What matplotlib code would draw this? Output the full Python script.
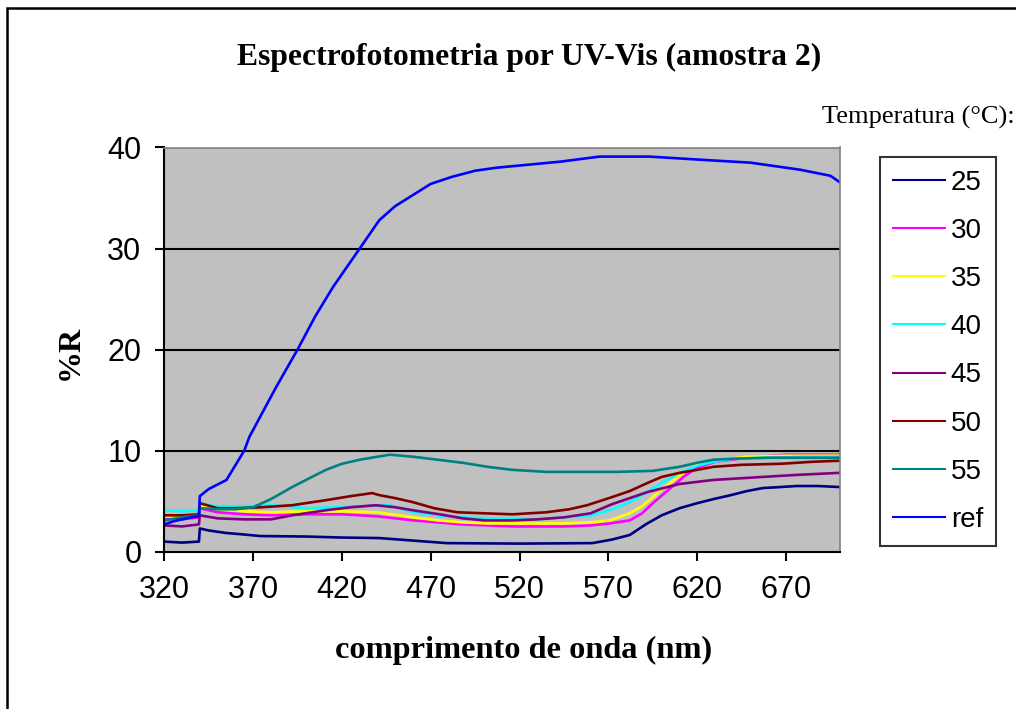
import matplotlib
matplotlib.use("Agg")
import matplotlib.pyplot as plt
from matplotlib.patches import Rectangle

# comprimento de onda (nm) e %R
nm25 = [320, 330, 339.5, 340, 345, 355, 365, 374, 400, 420, 441, 460, 479, 520, 561, 572, 582, 591, 600, 610, 620, 629, 639, 648, 657, 667, 676, 688, 700]
r25 = [1.0, 0.9, 1.0, 2.3, 2.1, 1.85, 1.7, 1.55, 1.5, 1.4, 1.35, 1.1, 0.85, 0.8, 0.85, 1.2, 1.65, 2.7, 3.6, 4.3, 4.8, 5.2, 5.6, 6.0, 6.3, 6.4, 6.5, 6.5, 6.4]

nm30 = [320, 330, 339.5, 340, 350, 365, 380, 400, 420, 440, 460, 474, 488, 502, 516, 530, 545, 560, 571, 582, 589, 595, 601, 607, 613, 620, 630, 648, 670, 700]
r30 = [3.3, 3.2, 3.4, 4.3, 3.9, 3.7, 3.6, 3.7, 3.7, 3.5, 3.1, 2.9, 2.7, 2.6, 2.5, 2.5, 2.5, 2.6, 2.8, 3.1, 3.8, 4.8, 5.7, 6.6, 7.5, 8.3, 8.9, 9.3, 9.6, 9.6]

nm35 = [320, 330, 339.5, 340, 350, 365, 380, 400, 420, 440, 460, 474, 488, 502, 516, 530, 545, 560, 571, 582, 589, 595, 601, 607, 613, 620, 630, 648, 670, 700]
r35 = [3.5, 3.4, 3.6, 4.6, 4.2, 4.0, 3.9, 4.0, 4.0, 3.9, 3.4, 3.1, 2.9, 2.8, 2.8, 2.8, 2.8, 2.9, 3.1, 3.8, 4.5, 5.4, 6.3, 7.1, 7.9, 8.6, 9.0, 9.4, 9.5, 9.5]

nm40 = [320, 330, 339.5, 340, 350, 365, 380, 400, 420, 435, 447, 460, 474, 488, 502, 516, 530, 545, 560, 571, 582, 592, 601, 610, 620, 629, 640, 660, 680, 700]
r40 = [4.1, 4.0, 4.1, 4.8, 4.5, 4.5, 4.6, 4.3, 4.4, 4.5, 4.6, 3.9, 3.6, 3.4, 3.3, 3.2, 3.2, 3.4, 3.6, 4.1, 4.9, 5.9, 6.9, 7.8, 8.5, 8.9, 9.2, 9.3, 9.4, 9.4]

nm45 = [320, 330, 339.5, 340, 350, 365, 380, 392, 411, 425, 439, 450, 460, 475, 488, 500, 516, 530, 545, 560, 572, 582, 592, 610, 629, 657, 676, 700]
r45 = [2.6, 2.5, 2.7, 3.6, 3.3, 3.2, 3.2, 3.6, 4.1, 4.4, 4.6, 4.4, 4.1, 3.7, 3.3, 3.1, 3.1, 3.2, 3.4, 3.8, 4.7, 5.3, 5.9, 6.7, 7.1, 7.4, 7.6, 7.8]

nm50 = [320, 330, 339.5, 340, 350, 360, 375, 392, 411, 425, 437, 441, 450, 460, 472, 485, 500, 516, 535, 548, 558, 572, 582, 592, 600, 610, 620, 629, 645, 667, 685, 700]
r50 = [3.6, 3.6, 3.7, 4.8, 4.3, 4.3, 4.4, 4.6, 5.1, 5.5, 5.8, 5.6, 5.3, 4.9, 4.3, 3.9, 3.8, 3.7, 3.9, 4.2, 4.6, 5.4, 6.0, 6.8, 7.4, 7.8, 8.1, 8.4, 8.6, 8.7, 8.9, 9.0]

nm55 = [320, 330, 339.5, 340, 350, 360, 370, 380, 392, 402, 411, 420, 430, 440, 447, 460, 474, 488, 502, 516, 535, 554, 575, 595, 610, 620, 629, 640, 660, 680, 700]
r55 = [3.1, 3.4, 3.6, 4.3, 4.2, 4.2, 4.4, 5.2, 6.4, 7.3, 8.1, 8.7, 9.1, 9.4, 9.6, 9.4, 9.1, 8.8, 8.4, 8.1, 7.9, 7.9, 7.9, 8.0, 8.4, 8.8, 9.1, 9.2, 9.3, 9.3, 9.3]

nm_ref = [320, 325, 330, 335, 339.5, 340, 345, 355, 365, 368, 383, 395, 405, 415, 430, 441, 450, 460, 470, 482, 495, 507, 525, 543, 565, 593, 621, 650, 678, 695, 700]
r_ref = [2.7, 3.0, 3.2, 3.4, 3.5, 5.5, 6.2, 7.1, 10.0, 11.4, 16.3, 20.0, 23.3, 26.2, 30.0, 32.8, 34.2, 35.3, 36.4, 37.1, 37.7, 38.0, 38.3, 38.6, 39.1, 39.1, 38.8, 38.5, 37.8, 37.2, 36.6]

series = [
    ("25", nm25, r25, "#000080"),
    ("30", nm30, r30, "#FF00FF"),
    ("35", nm35, r35, "#FFFF00"),
    ("40", nm40, r40, "#00FFFF"),
    ("45", nm45, r45, "#800080"),
    ("50", nm50, r50, "#800000"),
    ("55", nm55, r55, "#008080"),
    ("ref", nm_ref, r_ref, "#0000FF"),
]

W, H = 1016, 709
fig = plt.figure(figsize=(W / 100, H / 100), dpi=100)
fig.patch.set_facecolor("white")

ax = fig.add_axes([164.3 / W, 1 - 551.7 / H, (840 - 164.3) / W, (551.7 - 147.5) / H])
ax.set_facecolor("#C0C0C0")

for lab, x, y, c in series:
    ax.plot(x, y, color=c, lw=1.9, label=lab)

ax.set_xlim(320, 700.4)
ax.set_ylim(0, 40)
ax.set_xticks(range(320, 700, 50))
ax.set_yticks(range(0, 41, 10))
for v in (10, 20, 30):
    ax.axhline(v, color="black", lw=1.5, zorder=1)

for s in ("left", "bottom"):
    ax.spines[s].set_color("black")
    ax.spines[s].set_linewidth(1.5)
for s in ("top", "right"):
    ax.spines[s].set_color("#808080")
    ax.spines[s].set_linewidth(1.2)

ax.tick_params(direction="out", length=6.5, width=1.5, labelsize=22, pad=10)
for t in ax.get_xticklabels() + ax.get_yticklabels():
    t.set_family("Liberation Sans")

serif = "Liberation Serif"
fig.text(529 / W, 1 - 57 / H, "Espectrofotometria por UV-Vis (amostra 2)",
         ha="center", va="center", fontsize=22.8, weight="bold", family=serif)
fig.text(524 / W, 1 - 650 / H, "comprimento de onda (nm)",
         ha="center", va="center", fontsize=23.3, weight="bold", family=serif)
fig.text(70 / W, 1 - 352 / H, "%R", rotation=90,
         ha="center", va="center", fontsize=23, weight="bold", family=serif)
fig.text(822 / W, 1 - 117 / H, "Temperatura (\u00b0C):",
         ha="left", va="center", fontsize=19, family=serif)

leg = ax.legend(loc="upper left", bbox_to_anchor=(880 / W, 1 - 157 / H),
                bbox_transform=fig.transFigure, fancybox=False, frameon=True,
                prop={"family": "Liberation Sans", "size": 20},
                handlelength=1.9, handletextpad=0.2, labelspacing=0.8,
                borderpad=0.45, borderaxespad=0)
leg.get_frame().set_edgecolor("black")
leg.get_frame().set_linewidth(1.5)
for l in leg.get_lines():
    l.set_linewidth(1.5)

# moldura externa do grafico
fig.patches.append(Rectangle((7 / W, -0.2), 1.5, 1 - 8 / H + 0.2,
                             transform=fig.transFigure, fill=False,
                             edgecolor="black", lw=1.8))

fig.savefig("out.png", dpi=100)
